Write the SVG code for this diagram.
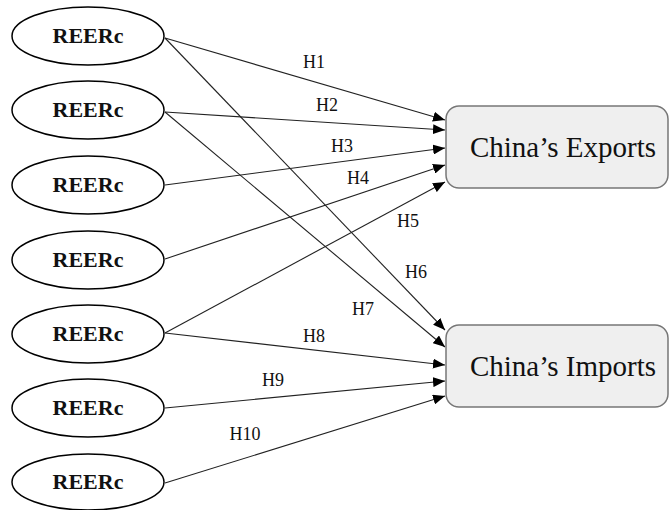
<svg xmlns="http://www.w3.org/2000/svg" width="670" height="510" viewBox="0 0 670 510">
<style>
.el{fill:#fff;stroke:#000;stroke-width:1.5}
.nt{font-family:"Liberation Serif","Times New Roman",serif;font-weight:bold;font-size:22px;text-anchor:middle;fill:#111}
.box{fill:#efefef;stroke:#777;stroke-width:1.5}
.bt{font-family:"Liberation Serif","Times New Roman",serif;font-size:29px;text-anchor:middle;fill:#111}
.ln{stroke:#222;stroke-width:1.1;fill:none;marker-end:url(#ah)}
.lb{font-family:"Liberation Serif","Times New Roman",serif;font-size:18px;text-anchor:middle;fill:#111}
</style>
<defs>
<marker id="ah" markerUnits="userSpaceOnUse" markerWidth="13" markerHeight="10" refX="12" refY="5" orient="auto">
<path d="M0,0 L12,5 L0,10 Z" fill="#000"/>
</marker>
</defs>
<rect width="670" height="510" fill="#fff"/>
<g id="connectors">
<line class="ln" x1="165" y1="38" x2="445" y2="120"/>
<line class="ln" x1="165" y1="38" x2="445" y2="330"/>
<line class="ln" x1="165" y1="112" x2="445" y2="130"/>
<line class="ln" x1="165" y1="112" x2="445" y2="347"/>
<line class="ln" x1="165" y1="185" x2="445" y2="148"/>
<line class="ln" x1="165" y1="259" x2="445" y2="165"/>
<line class="ln" x1="165" y1="333" x2="445" y2="182"/>
<line class="ln" x1="165" y1="333" x2="445" y2="365"/>
<line class="ln" x1="165" y1="408" x2="445" y2="381"/>
<line class="ln" x1="165" y1="483" x2="445" y2="396"/>
<text class="lb" x="314" y="68">H1</text>
<text class="lb" x="327" y="111">H2</text>
<text class="lb" x="342" y="152">H3</text>
<text class="lb" x="358" y="184">H4</text>
<text class="lb" x="408" y="227">H5</text>
<text class="lb" x="416" y="278">H6</text>
<text class="lb" x="363" y="315">H7</text>
<text class="lb" x="314" y="342">H8</text>
<text class="lb" x="273" y="386">H9</text>
<text class="lb" x="245" y="440">H10</text>
</g>
<g id="n1"><ellipse class="el" cx="88" cy="36" rx="76" ry="29"/><text class="nt" x="88" y="43">REERc</text></g>
<g id="n2"><ellipse class="el" cx="88" cy="110" rx="76" ry="29"/><text class="nt" x="88" y="117">REERc</text></g>
<g id="n3"><ellipse class="el" cx="88" cy="185" rx="76" ry="29"/><text class="nt" x="88" y="192">REERc</text></g>
<g id="n4"><ellipse class="el" cx="88" cy="260" rx="76" ry="29"/><text class="nt" x="88" y="267">REERc</text></g>
<g id="n5"><ellipse class="el" cx="88" cy="334" rx="76" ry="29"/><text class="nt" x="88" y="341">REERc</text></g>
<g id="n6"><ellipse class="el" cx="88" cy="408" rx="76" ry="29"/><text class="nt" x="88" y="415">REERc</text></g>
<g id="n7"><ellipse class="el" cx="88" cy="482" rx="76" ry="28"/><text class="nt" x="88" y="489">REERc</text></g>
<g id="exports"><rect class="box" x="446" y="106" width="222" height="82" rx="13"/><text class="bt" x="563" y="157">China’s Exports</text></g>
<g id="imports"><rect class="box" x="446" y="325" width="222" height="82" rx="13"/><text class="bt" x="563" y="376">China’s Imports</text></g>
</svg>
